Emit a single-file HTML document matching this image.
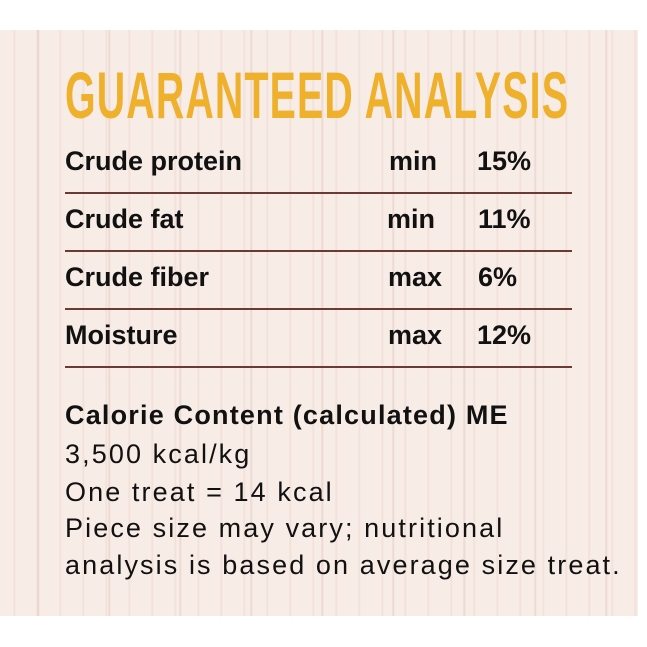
<!DOCTYPE html>
<html><head><style>
body{margin:0;width:647px;height:647px;background:#fff;position:relative;overflow:hidden;font-family:"Liberation Sans",sans-serif}
#bg{position:absolute;left:0;top:30px;width:638px;height:586px;background:
repeating-linear-gradient(90deg,rgba(200,150,140,0) 0 37px,rgba(190,140,130,.25) 38px,rgba(200,150,140,0) 40px 71px),
repeating-linear-gradient(90deg,rgba(230,200,190,0) 0 13px,rgba(220,180,170,.25) 14px,rgba(230,200,190,0) 16px 23px),
#f8ece6}
.t{position:absolute;white-space:nowrap}
#title{left:65px;top:57px;font-weight:bold;font-size:66px;color:#efb02c;letter-spacing:2px;transform-origin:0 0;transform:scaleX(.595)}
.r{font-weight:bold;font-size:27px;color:#111}
.l{position:absolute;left:65px;width:507px;height:2px;background:#6b3a33}
.b{font-size:27px;color:#111;letter-spacing:2.1px}
</style></head><body>
<div id="bg"></div>
<div class="t" id="title">GUARANTEED ANALYSIS</div>
<div class="t r" style="left:65px;top:146px">Crude protein</div><div class="t r" style="left:389px;top:146px">min</div><div class="t r" style="left:477px;top:146px">15%</div>
<div class="l" style="top:192px"></div>
<div class="t r" style="left:65px;top:204px">Crude fat</div><div class="t r" style="left:387px;top:204px">min</div><div class="t r" style="left:478px;top:204px">11%</div>
<div class="l" style="top:250px"></div>
<div class="t r" style="left:65px;top:262px">Crude fiber</div><div class="t r" style="left:388px;top:262px">max</div><div class="t r" style="left:478px;top:262px">6%</div>
<div class="l" style="top:308px"></div>
<div class="t r" style="left:65px;top:320px">Moisture</div><div class="t r" style="left:388px;top:320px">max</div><div class="t r" style="left:477px;top:320px">12%</div>
<div class="l" style="top:366px"></div>
<div class="t r" style="left:65px;top:400px;font-size:27px;letter-spacing:1.2px">Calorie Content (calculated) ME</div>
<div class="t b" style="left:65px;top:439px">3,500 kcal/kg</div>
<div class="t b" style="left:65px;top:477px">One treat = 14 kcal</div>
<div class="t b" style="left:65px;top:513px">Piece size may vary; nutritional</div>
<div class="t b" style="left:65px;top:550px">analysis is based on average size treat.</div>
</body></html>
